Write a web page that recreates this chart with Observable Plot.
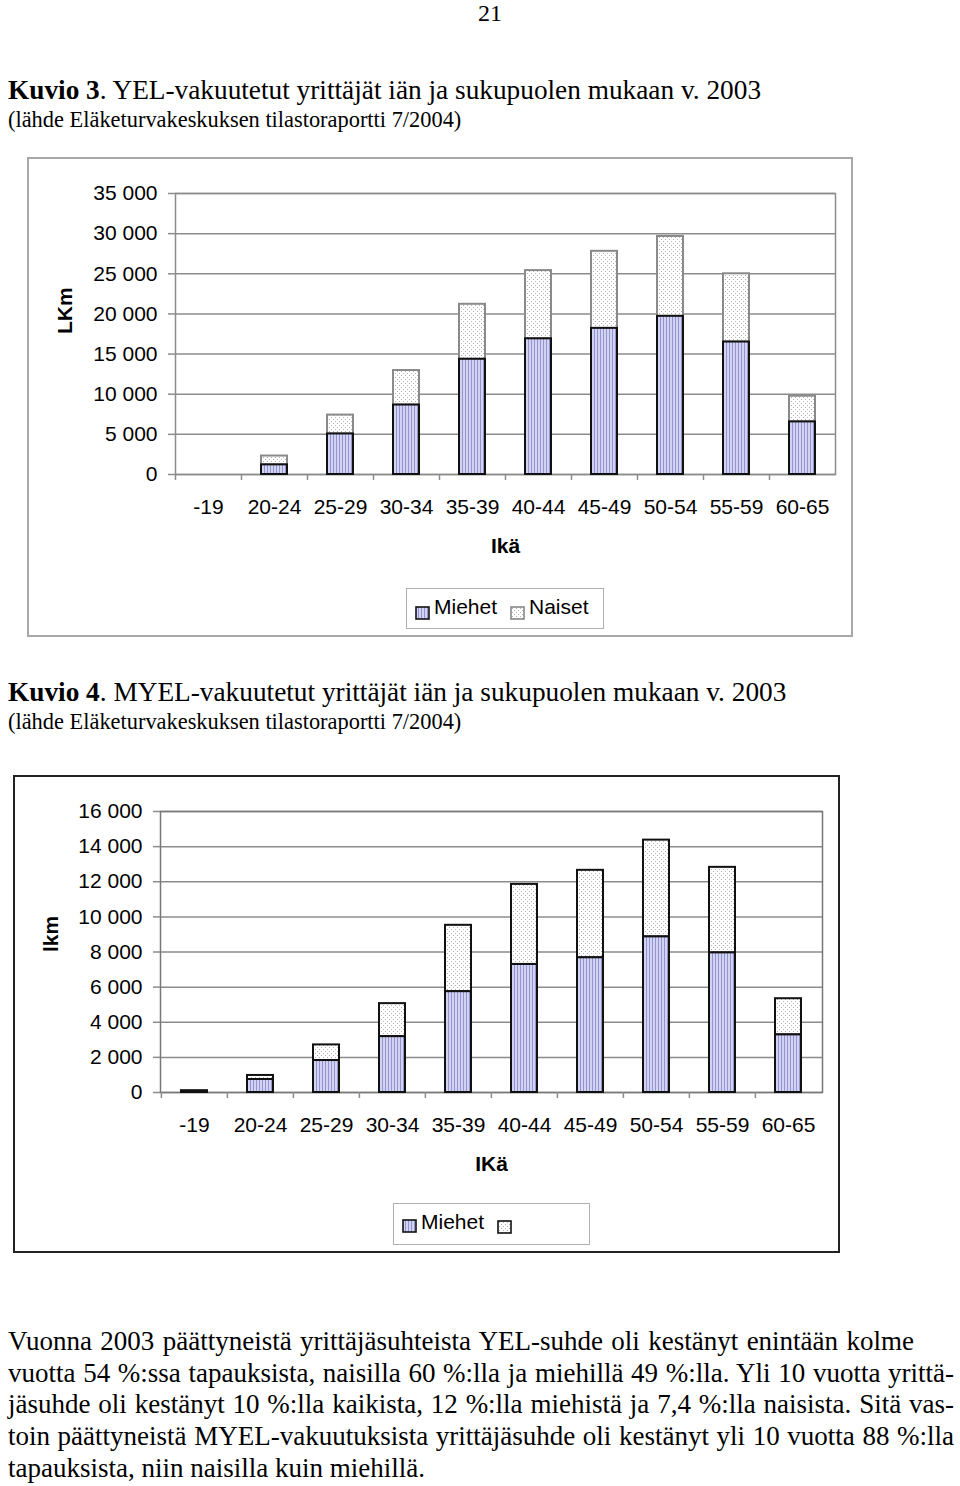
<!DOCTYPE html>
<html><head><meta charset="utf-8">
<script src="https://cdn.jsdelivr.net/npm/d3@7"></script>
<script src="https://cdn.jsdelivr.net/npm/@observablehq/plot@0.6"></script>
<style>
body{margin:0;background:#fff;}
#page{position:relative;width:960px;height:1486px;overflow:hidden;background:#fff;}
.abs{position:absolute;white-space:nowrap;}
.serif{font-family:"Liberation Serif","Times New Roman",serif;color:#000;line-height:1;}
.sans{font-family:"Liberation Sans",Arial,sans-serif;color:#000;line-height:1;}
.box{position:absolute;box-sizing:border-box;pointer-events:none;}
.just{text-align:justify;text-align-last:justify;}
</style></head><body><div id="page">
<svg width="0" height="0" style="position:absolute;left:0;top:0">
<defs>
<pattern id="menPat" width="3" height="4" patternUnits="userSpaceOnUse">
 <rect width="3" height="4" fill="#d2d2f4"/>
 <rect x="0" width="1" height="4" fill="#9494cc"/>
</pattern>
<pattern id="dotPat" width="4" height="4" patternUnits="userSpaceOnUse">
 <rect width="4" height="4" fill="#fff"/>
 <rect x="0" y="0" width="1" height="1" fill="#b0b0b0"/>
 <rect x="2" y="2" width="1" height="1" fill="#b0b0b0"/>
</pattern>
</defs></svg>
</div>
<script>
// ---------- data ----------
const ages = ["-19","20-24","25-29","30-34","35-39","40-44","45-49","50-54","55-59","60-65"];
const yelMiehet = [0, 1200, 5050, 8650, 14350, 16900, 18200, 19700, 16500, 6550];
const yelNaiset = [0, 1100, 2350, 4300, 6850, 8500, 9600, 9950, 8500, 3200];
const myelMiehet = [70, 740, 1820, 3180, 5740, 7290, 7670, 8860, 7950, 3280];
const myelNaiset = [30, 230, 890, 1880, 3780, 4560, 4980, 5510, 4870, 2060];
const yelTicks = [0, 5000, 10000, 15000, 20000, 25000, 30000, 35000];
const myelTicks = [0, 2000, 4000, 6000, 8000, 10000, 12000, 14000, 16000];
const legend1 = ["Miehet", "Naiset"];
const legend2 = ["Miehet", ""];
const pageNumber = "21";
const title1 = ["Kuvio 3", ". YEL-vakuutetut yrittäjät iän ja sukupuolen mukaan v. 2003"];
const title2 = ["Kuvio 4", ". MYEL-vakuutetut yrittäjät iän ja sukupuolen mukaan v. 2003"];
const sourceText = "(lähde Eläketurvakeskuksen tilastoraportti 7/2004)";
const paragraph = [
  "Vuonna 2003 päättyneistä yrittäjäsuhteista YEL-suhde oli kestänyt enintään kolme",
  "vuotta 54 %:ssa tapauksista, naisilla 60 %:lla ja miehillä 49 %:lla. Yli 10 vuotta yrittä-",
  "jäsuhde oli kestänyt 10 %:lla kaikista, 12 %:lla miehistä ja 7,4 %:lla naisista. Sitä vas-",
  "toin päättyneistä MYEL-vakuutuksista yrittäjäsuhde oli kestänyt yli 10 vuotta 88 %:lla",
  "tapauksista, niin naisilla kuin miehillä."
];

// ---------- helpers ----------
const page = document.getElementById("page");
function addEl(tag, cls, style, html) {
  const e = document.createElement(tag);
  if (cls) e.className = cls;
  Object.assign(e.style, style);
  if (html != null) e.innerHTML = html;
  page.appendChild(e);
  return e;
}
const fmt = d => d3.format(",")(d).replace(/,/g, " ");

function chart({men, women, ticks, yMax, left, top, width, height, mL, mR, mT, mB, yLabel, xLabel, womenStroke, gridColor, frameColor}) {
  const data = ages.map((a, i) => ({age: a, m: men[i], n: women[i]}));
  const step = (width - mL - mR) / ages.length;
  const svg = Plot.plot({
    width, height,
    marginLeft: mL, marginRight: mR, marginTop: mT, marginBottom: mB,
    style: {fontFamily: "'Liberation Sans', Arial, sans-serif", fontSize: "21px", color: "#000", background: "none", overflow: "visible"},
    x: {domain: ages, paddingInner: 0.6, paddingOuter: 0.3, label: null},
    y: {domain: [0, yMax], label: null},
    marks: [
      Plot.gridY(ticks, {stroke: gridColor, strokeOpacity: 1, strokeWidth: 1.5}),
      Plot.frame({stroke: frameColor, strokeWidth: 1.5}),
      Plot.axisY(ticks, {tickSize: 7, tickPadding: 11, tickFormat: fmt, stroke: gridColor, strokeWidth: 1.5, fontSize: 21, label: null}),
      Plot.axisX(ages, {tickSize: 6, tickFormat: () => "", dx: -step / 2, stroke: gridColor, strokeWidth: 1.5, label: null}),
      Plot.axisX(ages, {tickSize: 0, tickPadding: 25, fontSize: 21, label: null}),
      Plot.barY(data, {filter: d => d.n > 0, x: "age", y1: "m", y2: d => d.m + d.n, fill: "url(#dotPat)", stroke: womenStroke, strokeWidth: 2}),
      Plot.barY(data, {filter: d => d.m > 0, x: "age", y: "m", fill: "url(#menPat)", stroke: "#111", strokeWidth: 2}),
      Plot.text([xLabel], {text: d => d, frameAnchor: "bottom", dy: 78, fontWeight: "bold", fontSize: 21}),
      Plot.text([yLabel], {text: d => d, frameAnchor: "left", dx: -(mL - 38), rotate: -90, fontWeight: "bold", fontSize: 21})
    ]
  });
  svg.style.position = "absolute";
  svg.style.left = left + "px";
  svg.style.top = top + "px";
  page.appendChild(svg);
}

// ---------- page texts ----------
addEl("div", "abs serif", {left: "440px", width: "100px", textAlign: "center", top: "1px", fontSize: "24px"}, pageNumber);
function heading(t, top) {
  addEl("div", "abs serif", {left: "8px", top: top + "px", fontSize: "27.3px"}, "<b>" + t[0] + "</b>" + t[1]);
}
heading(title1, 77);
addEl("div", "abs serif", {left: "8px", top: "109px", fontSize: "22.4px"}, sourceText);
heading(title2, 679);
addEl("div", "abs serif", {left: "8px", top: "711px", fontSize: "22.4px"}, sourceText);

// ---------- charts ----------
chart({men: yelMiehet, women: yelNaiset, ticks: yelTicks, yMax: 35000,
  left: 27, top: 157, width: 826, height: 480, mL: 148, mR: 18, mT: 36, mB: 163,
  yLabel: "LKm", xLabel: "Ikä", womenStroke: "#8a8a8a", gridColor: "#8c8c8c", frameColor: "#8c8c8c"});
addEl("div", "box", {left: "27px", top: "157px", width: "826px", height: "480px", border: "2px solid #a8a8a8"});

chart({men: myelMiehet, women: myelNaiset, ticks: myelTicks, yMax: 16000,
  left: 13, top: 775, width: 827, height: 478, mL: 147, mR: 18, mT: 36, mB: 161,
  yLabel: "lkm", xLabel: "IKä", womenStroke: "#111", gridColor: "#8c8c8c", frameColor: "#777"});
addEl("div", "box", {left: "13px", top: "775px", width: "827px", height: "478px", border: "2px solid #222"});

// ---------- legends ----------
function legend(names, box, items, strokes) {
  addEl("div", "box", {left: box[0] + "px", top: box[1] + "px", width: box[2] + "px", height: box[3] + "px", border: "1.5px solid #b0b0b0", background: "#fff"});
  names.forEach((name, i) => {
    const it = items[i];
    const fill = i === 0 ? "url(#menPat)" : "url(#dotPat)";
    addEl("div", "abs", {left: it.sx + "px", top: it.sy + "px", width: "15px", height: "14px"},
      `<svg width="15" height="14"><rect x="1" y="1" width="13" height="12" fill="${fill}" stroke="${strokes[i]}" stroke-width="1.6"/></svg>`);
    if (name) addEl("div", "abs sans", {left: it.tx + "px", top: it.ty + "px", fontSize: "21px"}, name);
  });
}
legend(legend1, [406, 588, 198, 41], [{sx: 415, sy: 606, tx: 434, ty: 596}, {sx: 510, sy: 606, tx: 529, ty: 596}], ["#111", "#888"]);
legend(legend2, [393, 1203, 197, 42], [{sx: 402, sy: 1219, tx: 421, ty: 1211}, {sx: 497, sy: 1220}], ["#111", "#111"]);

// ---------- paragraph ----------
const lineTops = [1328, 1360, 1391, 1423, 1455];
paragraph.forEach((line, i) => {
  const just = i <= 3;
  const w = i === 0 ? 906 : 946;
  addEl("div", "abs serif" + (just ? " just" : ""), {left: "8px", top: lineTops[i] + "px", fontSize: "27px", width: just ? w + "px" : "auto", whiteSpace: just ? "normal" : "nowrap"}, line);
});
</script>
</body></html>
